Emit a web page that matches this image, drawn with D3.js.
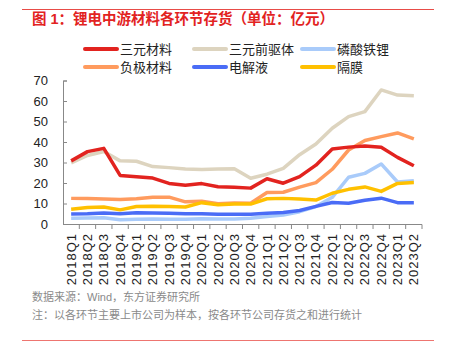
<!DOCTYPE html>
<html>
<head>
<meta charset="utf-8">
<script src="https://cdn.jsdelivr.net/npm/d3@7"></script>
<style>
  body { margin: 0; background: #fff; }
  svg { display: block; font-family: "Liberation Sans", "Noto Sans CJK SC", sans-serif; }
</style>
</head>
<body>
<div id="chart"></div>
<script>
const quarters = [
  "2018Q1", "2018Q2", "2018Q3", "2018Q4",
  "2019Q1", "2019Q2", "2019Q3", "2019Q4",
  "2020Q1", "2020Q2", "2020Q3", "2020Q4",
  "2021Q1", "2021Q2", "2021Q3", "2021Q4",
  "2022Q1", "2022Q2", "2022Q3", "2022Q4",
  "2023Q1", "2023Q2"
];

// 存货（亿元），从图上读出的估计值
const ternary = [30.8, 35.3, 36.9, 23.7, 23.1, 22.4, 19.8, 18.9, 19.7, 18.2, 17.9, 17.5, 22.1, 19.9, 23.1, 28.7, 36.6, 37.5, 38.1, 37.4, 32.5, 28.4];
const precursor = [29.8, 33.4, 35.4, 30.8, 30.6, 28.0, 27.5, 26.8, 26.6, 26.8, 26.9, 22.3, 24.3, 27.1, 33.8, 39.0, 46.7, 52.4, 54.8, 65.4, 62.9, 62.6];
const lfp = [2.8, 2.9, 3.1, 2.1, 2.3, 2.4, 2.3, 2.3, 2.6, 2.4, 2.4, 2.8, 3.6, 4.4, 6.0, 8.5, 13.0, 22.8, 24.7, 29.3, 20.5, 21.1];
const anode = [12.5, 12.4, 12.2, 12.0, 12.3, 13.1, 13.1, 10.8, 11.1, 9.9, 10.2, 10.1, 15.4, 15.5, 18.0, 20.2, 26.7, 36.1, 40.7, 42.6, 44.4, 41.5];
const electrolyte = [4.9, 5.0, 5.4, 5.0, 5.5, 5.4, 5.2, 5.0, 5.0, 4.8, 4.7, 4.8, 5.2, 5.6, 6.6, 8.6, 10.5, 10.1, 11.6, 12.6, 10.4, 10.4];
const separator = [7.2, 8.0, 8.3, 6.9, 8.5, 8.6, 8.5, 8.3, 10.4, 9.4, 9.7, 9.7, 12.3, 12.5, 12.2, 11.7, 15.0, 16.9, 18.1, 15.9, 19.8, 20.3];

const seriesNames = ["三元材料", "三元前驱体", "磷酸铁锂", "负极材料", "电解液", "隔膜"];
const seriesValues = [ternary, precursor, lfp, anode, electrolyte, separator];
const seriesColors = ["#E2231F", "#DDD4BF", "#A9CBFA", "#FF9B5E", "#4A6CF6", "#FFC000"];
const yTicks = [0, 10, 20, 30, 40, 50, 60, 70];

const width = 451;
const height = 347;

const svg = d3.select("#chart")
  .append("svg")
  .attr("width", width)
  .attr("height", height);

// 顶部、底部红线
svg.append("line")
  .attr("x1", 22).attr("x2", 434)
  .attr("y1", 9.5).attr("y2", 9.5)
  .attr("stroke", "#E84C47").attr("stroke-width", 1);
svg.append("line")
  .attr("x1", 22).attr("x2", 434)
  .attr("y1", 340.5).attr("y2", 340.5)
  .attr("stroke", "#EE7570").attr("stroke-width", 1);

// 标题
svg.append("text")
  .attr("x", 32).attr("y", 24)
  .attr("font-size", "14.5px")
  .attr("font-weight", "bold")
  .attr("fill", "#E2231F")
  .text("图 1：锂电中游材料各环节存货（单位：亿元）");

// 比例尺
const x = d3.scaleBand().domain(quarters).range([63, 422]);
const y = d3.scaleLinear().domain([0, 70]).range([224, 80.5]);
const cx = q => x(q) + x.bandwidth() / 2;

// Y轴
const yAxis = svg.append("g")
  .attr("transform", "translate(63,0)")
  .call(d3.axisLeft(y).tickValues(yTicks).tickSize(-4).tickPadding(15));
yAxis.select(".domain").attr("stroke", "#888");
yAxis.selectAll(".tick line").attr("stroke", "#888");
yAxis.selectAll(".tick text")
  .attr("font-size", "13px")
  .attr("fill", "#222")
  .attr("font-family", "Liberation Sans, sans-serif");

// X轴（刻度在类目分界处）
const xAxis = svg.append("g");
xAxis.append("line")
  .attr("x1", 63).attr("x2", 422)
  .attr("y1", 224.5).attr("y2", 224.5)
  .attr("stroke", "#888");
xAxis.selectAll("line.tk")
  .data(quarters.slice(1).concat(["end"]))
  .join("line")
  .attr("class", "tk")
  .attr("x1", d => d === "end" ? 422 : x(d))
  .attr("x2", d => d === "end" ? 422 : x(d))
  .attr("y1", 224.5).attr("y2", 229)
  .attr("stroke", "#888");
xAxis.selectAll("text")
  .data(quarters)
  .join("text")
  .attr("transform", d => `translate(${cx(d)},233) rotate(-90)`)
  .attr("text-anchor", "end")
  .attr("dy", "0.35em")
  .attr("font-size", "13px")
  .attr("letter-spacing", "1px")
  .attr("fill", "#222")
  .text(d => d);

// 折线
const line = d3.line()
  .x((d, i) => cx(quarters[i]))
  .y(d => y(d));

const drawOrder = [1, 2, 3, 4, 5, 0];
svg.append("g")
  .selectAll("path")
  .data(drawOrder)
  .join("path")
  .attr("d", k => line(seriesValues[k]))
  .attr("fill", "none")
  .attr("stroke", k => seriesColors[k])
  .attr("stroke-width", 3.5)
  .attr("stroke-linejoin", "round");

// 图例
const legendCols = [85, 194, 302];
const legendRows = [49, 67];
const legend = svg.append("g")
  .selectAll("g")
  .data(seriesNames)
  .join("g")
  .attr("transform", (d, i) => `translate(${legendCols[i % 3]},${legendRows[Math.floor(i / 3)]})`);
legend.append("line")
  .attr("x1", 0).attr("x2", 32)
  .attr("stroke", (d, i) => seriesColors[i])
  .attr("stroke-width", 4)
  .attr("stroke-linecap", "round");
legend.append("text")
  .attr("x", 35)
  .attr("dy", "0.35em")
  .attr("font-size", "13px")
  .attr("fill", "#222")
  .text(d => d);

// 注释
svg.append("text")
  .attr("x", 32).attr("y", 301)
  .attr("font-size", "11px")
  .attr("fill", "#8a8a8a")
  .text("数据来源：Wind，东方证券研究所");
svg.append("text")
  .attr("x", 32).attr("y", 319)
  .attr("font-size", "11px")
  .attr("fill", "#8a8a8a")
  .text("注：以各环节主要上市公司为样本，按各环节公司存货之和进行统计");
</script>
</body>
</html>
